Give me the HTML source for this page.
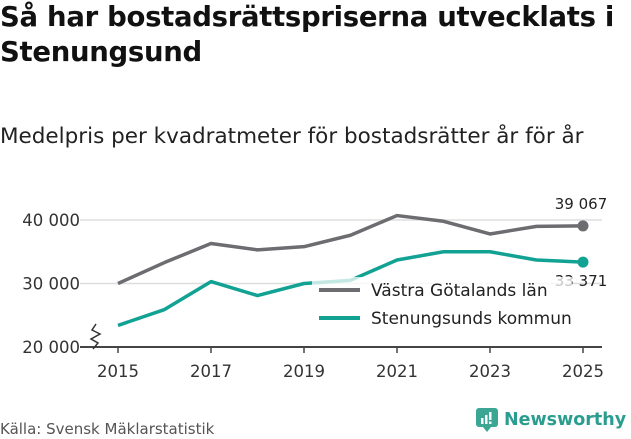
<!DOCTYPE html>
<html><head><meta charset="utf-8"><style>
body{margin:0;width:631px;height:439px;background:#fff;font-family:"DejaVu Sans","Liberation Sans",sans-serif;color:#222;overflow:hidden;position:relative}
h1{position:absolute;left:0;top:0px;margin:0;font-size:27.5px;line-height:35px;font-weight:bold;letter-spacing:-0.3px;color:#111;white-space:nowrap}
.sub{position:absolute;left:0;top:124px;font-size:21.5px;color:#222;white-space:nowrap}
.src{position:absolute;left:0;top:420px;font-size:15px;color:#555}
.logo{position:absolute;left:476px;top:408px;display:flex;align-items:center;gap:6px;font-size:17.5px;font-weight:bold;color:#2a9d8f}
</style></head><body>
<h1>Så har bostadsrättspriserna utvecklats i<br>Stenungsund</h1>
<div class="sub">Medelpris per kvadratmeter för bostadsrätter år för år</div>
<svg id="chart" width="631" height="439" style="position:absolute;left:0;top:0"></svg>
<div class="src">Källa: Svensk Mäklarstatistik</div>
<div class="logo"><svg width="22" height="24" viewBox="0 0 22 24"><rect x="0" y="0" width="22" height="19" rx="3" fill="#3aa693"/><path d="M7 19 L11 24 L15 19Z" fill="#3aa693"/><rect x="5" y="10" width="2.5" height="6" fill="#fff"/><rect x="9" y="7" width="2.5" height="9" fill="#fff"/><rect x="13" y="4" width="2.5" height="8" fill="#fff"/><rect x="13" y="13.5" width="2.5" height="2.5" fill="#fff"/></svg><span>Newsworthy</span></div>
<script>
const years=[2015,2016,2017,2018,2019,2020,2021,2022,2023,2024,2025];
const vgValues=[30000,33300,36300,35300,35800,37600,40700,39800,37800,39000,39067];
const stValues=[23400,25900,30300,28100,30000,30500,33700,35000,35000,33700,33371];
const yTicks=[20000,30000,40000];
const xTicks=[2015,2017,2019,2021,2023,2025];
const NS="http://www.w3.org/2000/svg";
const svg=document.getElementById('chart');
const x=v=>118+(v-2015)*46.5;
const y=v=>347-(v-20000)*0.00635;
function mk(t,a){const e=document.createElementNS(NS,t);for(const k in a)e.setAttribute(k,a[k]);svg.appendChild(e);return e;}
const fmt=v=>String(v).replace(/\B(?=(\d{3})+(?!\d))/g,' ');
yTicks.forEach(t=>{
  if(t>20000){const g=mk('line',{x1:80,x2:602,y1:y(t),y2:y(t),stroke:'#ddd','stroke-width':1.5});
  
  }
  const l=mk('text',{x:80,y:y(t)+6,'text-anchor':'end','font-size':16.5,fill:'#333'});l.textContent=fmt(t);
  
  
});
const ax=mk('line',{x1:80,x2:602,y1:347,y2:347,stroke:'#444','stroke-width':2});


const br=mk('path',{d:'M96 324 L92 330 L100 334 L91 339 L98 343 L93 349',fill:'none',stroke:'#333','stroke-width':1.5});


xTicks.forEach(t=>{
  mk('line',{x1:x(t),x2:x(t),y1:347,y2:353,stroke:'#444','stroke-width':1.5});
  const l=mk('text',{x:x(t),y:377,'text-anchor':'middle','font-size':16.5,fill:'#333'});l.textContent=t;
  
  
});
function series(vals,col,name){
  const p=mk('polyline',{points:vals.map((v,i)=>x(years[i])+','+y(v)).join(' '),fill:'none',stroke:col,'stroke-width':3.5,'stroke-linejoin':'round'});
  
  
  const n=vals.length-1;
  const c=mk('circle',{cx:x(years[n]),cy:y(vals[n]),r:5.5,fill:col});
  
  
}
series(vgValues,'#6d6c70','vastra-gotaland');
series(stValues,'#12a294','stenungsund');
const l1=mk('text',{x:581,y:y(vgValues[10])-17,'text-anchor':'middle','font-size':15,fill:'#222'});l1.textContent=fmt(vgValues[10]);


const l2=mk('text',{x:581,y:y(stValues[10])+24,'text-anchor':'middle','font-size':15,fill:'#222'});l2.textContent=fmt(stValues[10]);


const bg=mk('rect',{x:312,y:277,width:260,height:56,fill:'#fff','fill-opacity':0.75});


[['Västra Götalands län','#6d6c70',290],['Stenungsunds kommun','#12a294',318]].forEach(([t,c,yy])=>{
  const ln=mk('line',{x1:319,x2:360,y1:yy,y2:yy,stroke:c,'stroke-width':4});
  
  
  const tx=mk('text',{x:371,y:yy+6,'font-size':17,fill:'#222'});tx.textContent=t;
  
  
});
</script>
</body></html>
